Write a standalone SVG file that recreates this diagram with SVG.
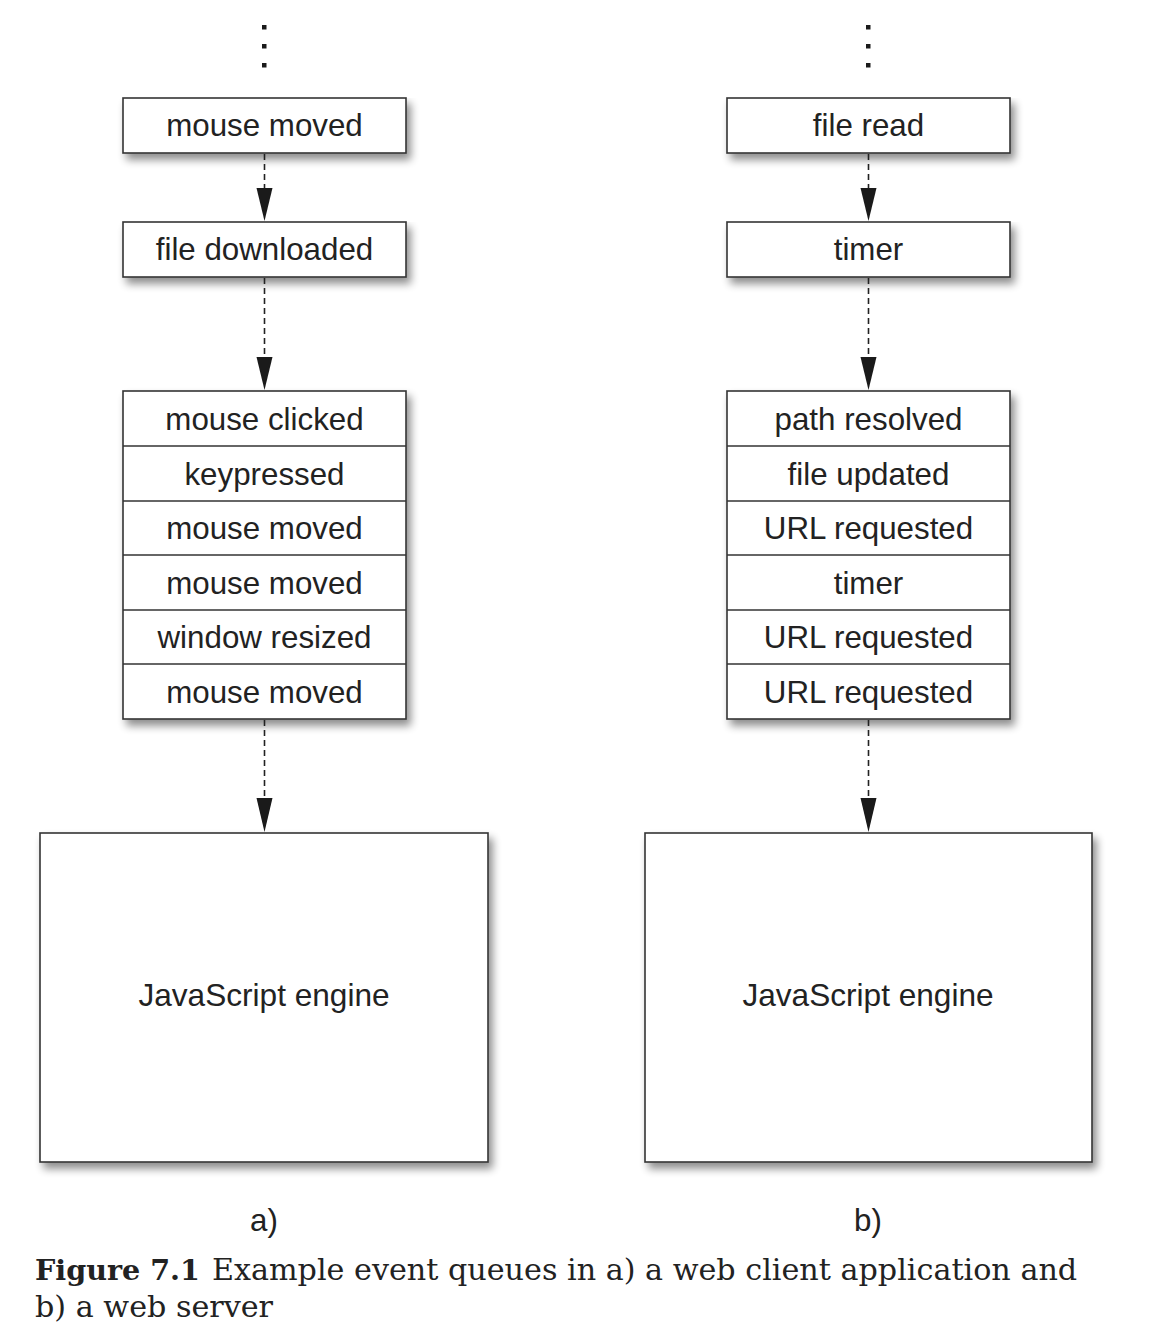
<svg xmlns="http://www.w3.org/2000/svg" width="1150" height="1330" viewBox="0 0 1150 1330">
<defs>
<filter id="sh" x="-10%" y="-10%" width="130%" height="140%">
<feGaussianBlur in="SourceAlpha" stdDeviation="4"/>
<feOffset dx="4" dy="6" result="b"/>
<feComponentTransfer><feFuncA type="linear" slope="0.45"/></feComponentTransfer>
<feMerge><feMergeNode/><feMergeNode in="SourceGraphic"/></feMerge>
</filter>
</defs>
<style>
.box{fill:#fff;stroke:#333;stroke-width:1.6}
.div{stroke:#333;stroke-width:1.4}
.t{font-family:"Liberation Sans",Arial,sans-serif;font-size:31.3px;fill:#222;text-anchor:middle}
.e{font-family:"Liberation Sans",Arial,sans-serif;font-size:31.6px;fill:#222;text-anchor:middle}
.dash{stroke:#222;stroke-width:1.6;stroke-dasharray:6 4;fill:none}
.head{fill:#1a1a1a}
.dot{fill:#1a1a1a}
.cap{font-family:"DejaVu Serif","Liberation Serif",serif;font-size:30.2px;fill:#222}
</style>
<rect width="1150" height="1330" fill="#fff"/>

<g id="dots-a"><rect class="dot" x="262" y="25" width="4.5" height="4.5"/><rect class="dot" x="262" y="44" width="4.5" height="4.5"/><rect class="dot" x="262" y="63" width="4.5" height="4.5"/></g>
<g id="dots-b"><rect class="dot" x="866" y="25" width="4.5" height="4.5"/><rect class="dot" x="866" y="44" width="4.5" height="4.5"/><rect class="dot" x="866" y="63" width="4.5" height="4.5"/></g>

<g id="a-mouse-moved"><rect class="box" x="123" y="98" width="283" height="55" filter="url(#sh)"/><text class="t" x="264.5" y="136">mouse moved</text></g>
<g id="a-file-downloaded"><rect class="box" x="123" y="222" width="283" height="55" filter="url(#sh)"/><text class="t" x="264.5" y="260">file downloaded</text></g>
<g id="a-queue">
<rect class="box" x="123" y="391" width="283" height="328" filter="url(#sh)"/>
<line class="div" x1="123" y1="446" x2="406" y2="446"/>
<line class="div" x1="123" y1="501" x2="406" y2="501"/>
<line class="div" x1="123" y1="555" x2="406" y2="555"/>
<line class="div" x1="123" y1="610" x2="406" y2="610"/>
<line class="div" x1="123" y1="664" x2="406" y2="664"/>
<text class="t" x="264.5" y="430">mouse clicked</text>
<text class="t" x="264.5" y="485">keypressed</text>
<text class="t" x="264.5" y="539">mouse moved</text>
<text class="t" x="264.5" y="594">mouse moved</text>
<text class="t" x="264.5" y="648">window resized</text>
<text class="t" x="264.5" y="703">mouse moved</text>
</g>
<g id="a-engine"><rect class="box" x="40" y="833" width="448" height="329" filter="url(#sh)"/><text class="e" x="264" y="1006">JavaScript engine</text></g>

<g id="b-file-read"><rect class="box" x="727" y="98" width="283" height="55" filter="url(#sh)"/><text class="t" x="868.5" y="136">file read</text></g>
<g id="b-timer"><rect class="box" x="727" y="222" width="283" height="55" filter="url(#sh)"/><text class="t" x="868.5" y="260">timer</text></g>
<g id="b-queue">
<rect class="box" x="727" y="391" width="283" height="328" filter="url(#sh)"/>
<line class="div" x1="727" y1="446" x2="1010" y2="446"/>
<line class="div" x1="727" y1="501" x2="1010" y2="501"/>
<line class="div" x1="727" y1="555" x2="1010" y2="555"/>
<line class="div" x1="727" y1="610" x2="1010" y2="610"/>
<line class="div" x1="727" y1="664" x2="1010" y2="664"/>
<text class="t" x="868.5" y="430">path resolved</text>
<text class="t" x="868.5" y="485">file updated</text>
<text class="t" x="868.5" y="539">URL requested</text>
<text class="t" x="868.5" y="594">timer</text>
<text class="t" x="868.5" y="648">URL requested</text>
<text class="t" x="868.5" y="703">URL requested</text>
</g>
<g id="b-engine"><rect class="box" x="645" y="833" width="447" height="329" filter="url(#sh)"/><text class="e" x="868" y="1006">JavaScript engine</text></g>

<g id="connectors">
<line class="dash" x1="264.5" y1="154" x2="264.5" y2="190"/><polygon class="head" points="256.5,188 272.5,188 264.5,221"/>
<line class="dash" x1="264.5" y1="278" x2="264.5" y2="358"/><polygon class="head" points="256.5,357 272.5,357 264.5,390"/>
<line class="dash" x1="264.5" y1="720" x2="264.5" y2="799"/><polygon class="head" points="256.5,798 272.5,798 264.5,832"/>
<line class="dash" x1="868.5" y1="154" x2="868.5" y2="190"/><polygon class="head" points="860.5,188 876.5,188 868.5,221"/>
<line class="dash" x1="868.5" y1="278" x2="868.5" y2="358"/><polygon class="head" points="860.5,357 876.5,357 868.5,390"/>
<line class="dash" x1="868.5" y1="720" x2="868.5" y2="799"/><polygon class="head" points="860.5,798 876.5,798 868.5,832"/>
</g>

<g id="labels">
<text class="t" x="264" y="1231">a)</text>
<text class="t" x="868" y="1231">b)</text>
<text class="cap" x="35" y="1280"><tspan font-weight="bold" font-size="28.6px">Figure 7.1</tspan><tspan dx="12">Example event queues in a) a web client application and</tspan></text>
<text class="cap" x="35" y="1317">b) a web server</text>
</g>
</svg>
